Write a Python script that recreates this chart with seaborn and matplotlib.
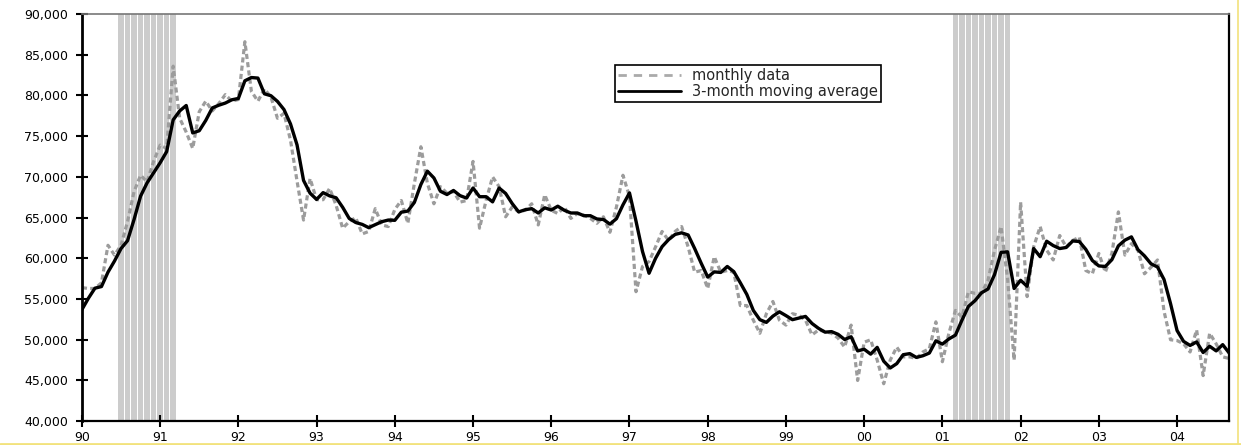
import matplotlib

matplotlib.use("Agg")
import matplotlib.pyplot as plt
from matplotlib.lines import Line2D
from matplotlib.ticker import FuncFormatter
import numpy as np
import pandas as pd
import seaborn as sns

# monthly values in thousands, Jan 1990 .. Sep 2004
y1990 = [56.4, 56.3, 56.3, 57.0, 61.6, 60.4, 61.6, 64.5, 68.2, 70.2, 69.4, 71.9]
y1991 = [73.9, 73.5, 83.6, 77.2, 75.5, 73.5, 78.0, 79.3, 78.1, 79.0, 80.1, 79.3]
y1992 = [79.5, 86.6, 80.5, 79.3, 80.8, 79.8, 77.2, 77.8, 74.5, 69.5, 64.7, 69.8]
y1993 = [67.2, 67.2, 68.6, 66.5, 63.7, 64.5, 65.0, 63.0, 63.3, 66.1, 64.1, 63.9]
y1994 = [66.0, 67.1, 64.3, 69.2, 73.7, 69.2, 66.7, 68.8, 68.0, 68.2, 66.9, 67.1]
y1995 = [71.9, 63.7, 67.1, 70.0, 68.8, 65.1, 66.3, 65.7, 65.9, 66.7, 64.1, 67.8]
y1996 = [65.9, 65.5, 66.3, 64.9, 65.5, 65.3, 64.9, 64.3, 65.1, 63.2, 66.3, 70.2]
y1997 = [67.6, 55.9, 59.0, 59.6, 61.4, 63.3, 62.2, 63.3, 63.9, 61.4, 58.3, 58.5]
y1998 = [56.3, 60.2, 58.3, 58.5, 58.3, 54.2, 54.2, 52.4, 50.8, 53.2, 54.7, 52.4]
y1999 = [51.8, 53.2, 53.0, 52.4, 50.6, 51.2, 51.0, 50.8, 50.2, 49.1, 51.8, 45.0]
y2000 = [49.7, 50.0, 47.5, 44.6, 47.5, 49.1, 47.9, 47.9, 47.7, 48.5, 48.9, 52.2]
y2001 = [47.3, 50.8, 53.6, 52.8, 55.9, 55.7, 55.7, 57.3, 61.0, 63.9, 57.5, 47.5]
y2002 = [66.9, 55.3, 61.4, 63.9, 61.0, 59.8, 62.8, 61.4, 62.2, 62.6, 58.5, 58.1]
y2003 = [60.6, 58.3, 60.6, 65.7, 60.4, 61.8, 61.0, 58.1, 58.9, 59.8, 53.5, 50.0]
y2004 = [49.9, 49.5, 48.5, 51.2, 45.6, 50.8, 49.5, 47.9, 47.7]

# Nov and Dec 1989, only needed to start the moving average
pre_window = [52.1, 52.6]

recessions = [("1990-07", "1991-03"), ("2001-03", "2001-11")]
year_ticks = list(range(1990, 2005))

monthly = np.array(y1990 + y1991 + y1992 + y1993 + y1994 + y1995 + y1996 + y1997
                   + y1998 + y1999 + y2000 + y2001 + y2002 + y2003 + y2004) * 1000
months = pd.period_range("1990-01", periods=len(monthly), freq="M")
xpos = np.asarray(months.year + (months.month - 1) / 12, dtype=float)
ma3 = pd.Series(np.r_[np.array(pre_window) * 1000, monthly]).rolling(3).mean().iloc[2:]

df = pd.DataFrame({"x": xpos, "monthly": monthly, "ma3": ma3.to_numpy()})

sns.set_theme(style="white")
plt.rcParams["font.family"] = ["DejaVu Sans"]

fig, ax = plt.subplots(figsize=(12.41, 4.45), dpi=100)
fig.subplots_adjust(left=0.066, right=0.9905, bottom=0.0535, top=0.9685)

# recession months drawn as grey columns (gaps give the striped look)
for start, end in recessions:
    per = pd.period_range(start, end, freq="M")
    rx = np.asarray(per.year + (per.month - 1) / 12, dtype=float)
    ax.bar(rx, 50000, bottom=40000, width=0.86 / 12, color="#cccccc",
           linewidth=0, zorder=0)

sns.lineplot(data=df, x="x", y="monthly", ax=ax, color="#9c9c9c", lw=2.3,
             linestyle=(0, (1.6, 1.0)), estimator=None, zorder=2,
             dash_joinstyle="round")
sns.lineplot(data=df, x="x", y="ma3", ax=ax, color="black", lw=2.4,
             estimator=None, zorder=3, solid_joinstyle="round",
             solid_capstyle="round")

ax.set_xlim(1990, xpos[-1])
ax.set_ylim(40000, 90000)
ax.set_xticks(year_ticks)
ax.set_xticklabels([f"{y % 100:02d}" for y in year_ticks])
ax.set_yticks(range(40000, 90001, 5000))
ax.yaxis.set_major_formatter(FuncFormatter(lambda v, _: f"{v:,.0f}"))
ax.set_xlabel("")
ax.set_ylabel("")

ax.tick_params(axis="both", direction="inout", length=8, width=1.5,
               colors="black", labelsize=9, bottom=True, left=True)
ax.tick_params(axis="y", pad=6)
ax.tick_params(axis="x", pad=3)

for side, lw, col in [("left", 2.0, "black"), ("bottom", 1.6, "black"),
                      ("right", 1.6, "black"), ("top", 1.2, "#777777")]:
    ax.spines[side].set_visible(True)
    ax.spines[side].set_linewidth(lw)
    ax.spines[side].set_color(col)

handles = [Line2D([], [], color="#aaaaaa", lw=2, linestyle=(0, (3, 2.5))),
           Line2D([], [], color="black", lw=2)]
leg = ax.legend(handles, ["monthly data", "3-month moving average"],
                loc="upper left", bbox_to_anchor=(0.4647, 0.875), borderaxespad=0,
                frameon=True, fancybox=False, framealpha=1, edgecolor="black",
                fontsize=10.5, borderpad=0.2, labelspacing=0.1,
                handlelength=4.3, handletextpad=0.8)
leg.get_frame().set_linewidth(1.2)

# thin yellow border strips seen at the bottom and right edge of the source
fig.add_artist(Line2D([0, 1], [0.003, 0.003], transform=fig.transFigure,
                      color="#f2e27c", lw=2))
fig.add_artist(Line2D([0.9976, 0.9976], [0, 1], transform=fig.transFigure,
                      color="#f2e27c", lw=1.2))

fig.savefig("out.png", dpi=100)
plt.close(fig)
